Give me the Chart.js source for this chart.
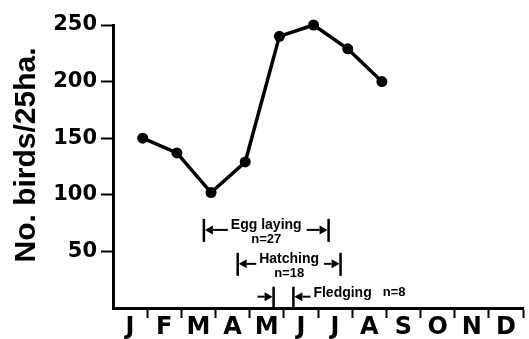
<!DOCTYPE html>
<html>
<head>
<meta charset="utf-8">
<script src="https://cdn.jsdelivr.net/npm/chart.js@4/dist/chart.umd.min.js"></script>
<style>
  html, body { margin: 0; padding: 0; background: #fff; }
  canvas { display: block; }
</style>
</head>
<body>
<canvas id="chart" width="529" height="339"></canvas>
<script>
// Month initials along the x axis
const MONTHS = ['J', 'F', 'M', 'A', 'M', 'J', 'J', 'A', 'S', 'O', 'N', 'D'];
// Census months (index into MONTHS) and bird counts per 25 ha
const CENSUS_MONTH = [0, 1, 2, 3, 4, 5, 6, 7];
const BIRDS = [150, 137, 102, 129, 240, 250, 229, 200];
// Y axis
const Y_MAX = 250;
const Y_STEP = 50;
const Y_TITLE = 'No. birds/25ha.';
// Breeding phases: name, sample size, start and end (in months from 1 Jan)
const PHASES = ['Egg laying', 'Hatching', 'Fledging'];
const PHASE_N = [27, 18, 8];
const PHASE_FROM = [2.66, 3.65, 4.70];
const PHASE_TO = [6.31, 6.66, 5.28];

// counts are taken near the end of each month
const CENSUS_OFFSET = 0.87;

const points = BIRDS.map((v, i) => ({ x: CENSUS_MONTH[i] + CENSUS_OFFSET, y: v }));

function arrow(ctx, x0, x1, y) {
  const dir = Math.sign(x1 - x0);
  const head = 8;
  ctx.beginPath();
  ctx.moveTo(x0, y);
  ctx.lineTo(x1 - dir * head, y);
  ctx.stroke();
  ctx.beginPath();
  ctx.moveTo(x1, y);
  ctx.lineTo(x1 - dir * head, y - 4.5);
  ctx.lineTo(x1 - dir * head, y + 4.5);
  ctx.closePath();
  ctx.fill();
}

function bar(ctx, x, y0, y1) {
  ctx.save();
  ctx.lineWidth = 2.5;
  ctx.beginPath();
  ctx.moveTo(x, y0);
  ctx.lineTo(x, y1);
  ctx.stroke();
  ctx.restore();
}

const phasePlugin = {
  id: 'phaseBars',
  afterDatasetsDraw(chart, args, opts) {
    const { ctx, scales: { x, y } } = chart;
    ctx.save();
    ctx.fillStyle = '#000';
    ctx.strokeStyle = '#000';
    ctx.lineWidth = 2;
    ctx.font = 'bold 14px "Liberation Sans", Arial, sans-serif';
    ctx.textBaseline = 'middle';
    PHASES.forEach((name, i) => {
      const xa = x.getPixelForValue(PHASE_FROM[i]);
      const xb = x.getPixelForValue(PHASE_TO[i]);
      const yc = y.getPixelForValue(opts.rows[i]);
      const nText = 'n=' + PHASE_N[i];
      if (i < 2) {
        // span with label between the bars
        bar(ctx, xa, yc - 11, yc + 12);
        bar(ctx, xb, yc - 11, yc + 12);
        const mid = (xa + xb) / 2;
        const w = ctx.measureText(name).width;
        ctx.textAlign = 'center';
        ctx.fillText(name, mid, yc - 5);
        ctx.font = 'bold 13px "Liberation Sans", Arial, sans-serif';
        ctx.fillText(nText, mid, yc + 10);
        ctx.font = 'bold 14px "Liberation Sans", Arial, sans-serif';
        arrow(ctx, mid - w / 2 - 3, xa + 1, yc);
        arrow(ctx, mid + w / 2 + 5, xb - 1, yc);
      } else {
        // short span: arrows point inward, label on the right
        const base = chart.chartArea.bottom;
        bar(ctx, xa, yc - 10, base);
        bar(ctx, xb, yc - 10, base);
        arrow(ctx, xa - 16, xa - 1, yc);
        arrow(ctx, xb + 17, xb + 1, yc);
        ctx.textAlign = 'left';
        const tx = xb + 20;
        ctx.fillText(name, tx, yc - 4);
        const w = ctx.measureText(name).width;
        ctx.font = 'bold 13px "Liberation Sans", Arial, sans-serif';
        ctx.fillText(nText, tx + w + 11, yc - 4);
      }
    });
    ctx.restore();
  }
};

const yTitlePlugin = {
  id: 'yTitle',
  afterDraw(chart) {
    const { ctx } = chart;
    ctx.save();
    ctx.translate(35, 155);
    ctx.rotate(-Math.PI / 2);
    ctx.font = 'bold 30px "Liberation Sans", Arial, sans-serif';
    ctx.fillStyle = '#000';
    ctx.textAlign = 'center';
    ctx.textBaseline = 'alphabetic';
    ctx.fillText(Y_TITLE, 0, 0);
    ctx.restore();
  }
};

new Chart(document.getElementById('chart'), {
  type: 'line',
  data: {
    datasets: [{
      data: points,
      borderColor: '#000',
      backgroundColor: '#000',
      borderWidth: 3.5,
      pointRadius: 5.5,
      pointBackgroundColor: '#000',
      pointBorderWidth: 0,
      tension: 0,
      fill: false,
      clip: false
    }]
  },
  options: {
    responsive: false,
    devicePixelRatio: 1,
    animation: false,
    layout: { padding: { left: 0, right: 6, top: 25, bottom: 0 } },
    plugins: {
      legend: { display: false },
      tooltip: { enabled: false },
      phaseBars: { rows: [69, 39, 10] }
    },
    scales: {
      x: {
        type: 'linear',
        min: 0,
        max: MONTHS.length,
        afterBuildTicks: (scale) => {
          scale.ticks = MONTHS.map((m, i) => ({ value: i + 0.5 }));
        },
        afterFit: (scale) => { scale.height = 31; },
        border: { display: true, color: '#000', width: 3 },
        grid: {
          offset: true,
          drawOnChartArea: false,
          drawTicks: true,
          tickLength: 10,
          tickWidth: 2,
          tickColor: (c) => (c.index === 0 ? 'rgba(0,0,0,0)' : '#000')
        },
        ticks: {
          autoSkip: false,
          maxRotation: 0,
          padding: -5,
          color: '#000',
          font: { family: '"DejaVu Sans", sans-serif', size: 24, weight: 'bold' },
          callback: (v, i) => MONTHS[i]
        }
      },
      y: {
        min: 0,
        max: Y_MAX,
        afterFit: (scale) => { scale.width = 113; },
        border: { display: true, color: '#000', width: 3 },
        grid: {
          drawOnChartArea: false,
          drawTicks: true,
          tickLength: 12,
          tickWidth: 2,
          tickColor: (c) => (c.tick && c.tick.value === 0 ? 'rgba(0,0,0,0)' : '#000')
        },
        ticks: {
          stepSize: Y_STEP,
          padding: 4,
          color: '#000',
          font: { family: '"DejaVu Sans", sans-serif', size: 21, weight: 'bold' },
          callback: (v) => (v === 0 ? '' : v)
        }
      }
    }
  },
  plugins: [phasePlugin, yTitlePlugin]
});
</script>
</body>
</html>
